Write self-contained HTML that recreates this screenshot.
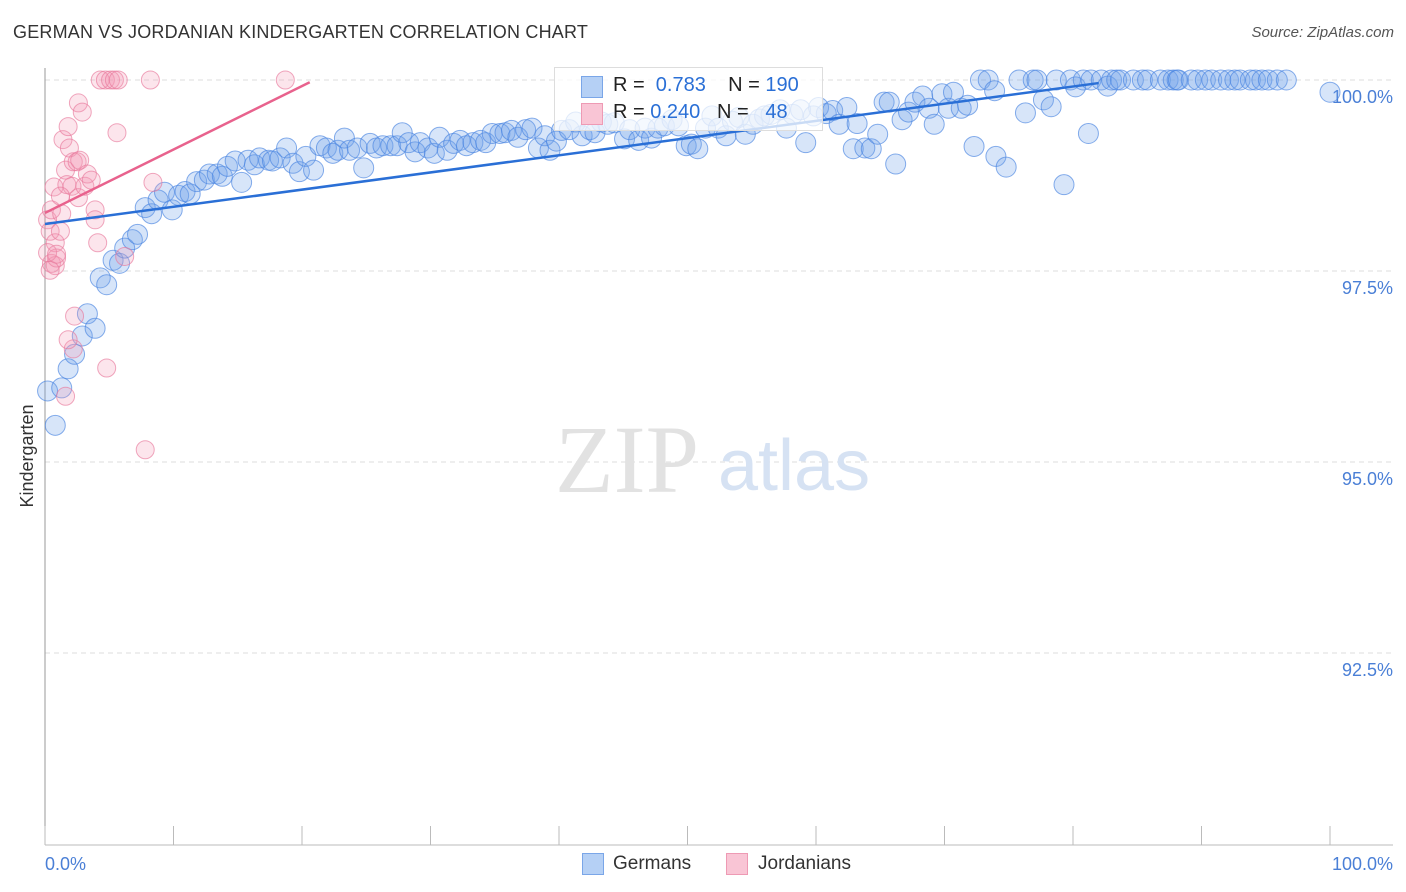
<!DOCTYPE html>
<html><head><meta charset="utf-8">
<style>
body{margin:0;background:#fff;font-family:"Liberation Sans",sans-serif;}
#wrap{position:relative;width:1406px;height:892px;overflow:hidden;}
.t{position:absolute;white-space:nowrap;}
</style></head>
<body>
<div id="wrap">
<div class="t" style="left:13px;top:22px;font-size:18px;color:#333;letter-spacing:0.2px">GERMAN VS JORDANIAN KINDERGARTEN CORRELATION CHART</div>
<div class="t" style="right:12px;top:24px;font-size:15px;color:#555;font-style:italic">Source: ZipAtlas.com</div>
<svg id="svg" width="1406" height="892" style="position:absolute;left:0;top:0"></svg>
</div>
<script>
const xTickLabels=["0.0%","100.0%"];
const yTicks=[100,97.5,95,92.5];
const yTickLabels=["100.0%","97.5%","95.0%","92.5%"];
const germansX=[0.2,0.8,1.3,1.8,2.3,2.9,3.3,3.9,4.3,4.8,5.3,5.8,6.2,6.8,7.2,7.8,8.3,8.8,9.3,9.9,10.4,10.9,11.3,11.8,12.4,12.8,13.4,13.8,14.2,14.8,15.3,15.8,16.3,16.7,17.4,17.7,18.3,18.8,19.3,19.8,20.3,20.9,21.4,21.9,22.4,22.8,23.3,23.7,24.3,24.8,25.3,25.8,26.3,26.9,27.4,27.8,28.3,28.8,29.2,29.8,30.3,30.7,31.3,31.8,32.3,32.8,33.3,33.9,34.3,34.8,35.4,35.8,36.3,36.8,37.4,37.9,38.4,38.9,39.3,39.8,40.2,40.8,41.3,41.8,42.4,42.8,43.3,43.8,44.3,45.1,45.5,46.2,46.7,47.2,47.7,48.2,48.8,49.3,49.9,50.3,50.8,51.4,51.9,52.4,53.0,53.5,54.0,54.5,55.1,55.6,56.0,56.5,57.2,57.7,58.2,58.8,59.2,59.8,60.2,60.8,61.3,61.8,62.4,62.9,63.2,63.8,64.3,64.8,65.3,65.7,66.2,66.7,67.2,67.7,68.3,68.8,69.2,69.8,70.3,70.7,71.3,71.8,72.3,72.8,73.4,73.9,74.0,74.8,75.8,76.3,76.9,77.2,77.7,78.3,78.7,79.3,79.8,80.2,80.8,81.2,81.4,82.2,82.7,83.0,83.4,83.7,84.7,85.4,85.8,86.8,87.4,87.8,88.1,88.2,89.2,89.7,90.3,90.8,91.5,92.1,92.6,93.0,93.8,94.2,94.7,95.2,95.9,96.6,100];
const germansY=[95.93,95.48,95.97,96.22,96.41,96.65,96.94,96.75,97.41,97.32,97.64,97.6,97.8,97.91,97.98,98.33,98.25,98.43,98.53,98.3,98.49,98.54,98.51,98.67,98.69,98.77,98.77,98.74,98.87,98.94,98.66,98.95,98.89,98.98,98.95,98.94,98.98,99.11,98.91,98.8,99.0,98.82,99.14,99.11,99.04,99.08,99.24,99.08,99.11,98.85,99.17,99.11,99.14,99.14,99.14,99.31,99.18,99.06,99.18,99.11,99.04,99.25,99.08,99.17,99.21,99.14,99.18,99.21,99.18,99.3,99.3,99.31,99.34,99.25,99.35,99.37,99.11,99.27,99.08,99.2,99.34,99.35,99.45,99.27,99.35,99.31,99.45,99.42,99.44,99.23,99.35,99.21,99.37,99.24,99.37,99.4,99.48,99.4,99.14,99.16,99.1,99.37,99.53,99.37,99.27,99.46,99.51,99.29,99.42,99.49,99.53,99.55,99.61,99.37,99.55,99.61,99.18,99.53,99.64,99.56,99.6,99.42,99.64,99.1,99.43,99.11,99.1,99.29,99.71,99.71,98.9,99.48,99.58,99.71,99.79,99.63,99.42,99.82,99.63,99.84,99.63,99.67,99.13,100,100,99.86,99.0,98.86,100,99.57,100,100,99.74,99.65,100,98.63,100,99.91,100,99.3,100,100,99.92,100,100,100,100,100,100,100,100,100,100,100,100,100,100,100,100,100,100,100,100,100,100,100,100,100,99.84];
const jordX=[0.2,0.4,0.5,0.7,0.8,0.5,0.8,0.9,1.2,1.3,1.4,1.6,1.7,1.8,1.9,2.1,2.2,2.3,2.2,2.5,2.6,2.6,2.7,2.9,3.1,3.3,3.6,3.9,3.9,4.1,4.3,4.7,4.8,5.1,5.4,5.6,5.7,6.2,7.8,8.2,8.4,18.7,1.2,0.2,0.4,0.9,1.8,1.6];
const jordY=[98.17,98.02,98.3,98.6,97.87,97.6,97.57,97.67,98.02,98.25,99.22,98.82,98.63,99.39,99.11,98.61,98.93,96.91,96.48,98.93,98.46,99.7,98.95,99.58,98.61,98.77,98.69,98.3,98.17,97.87,100,100,96.23,100,100,99.31,100,97.69,95.16,100,98.66,100,98.48,97.74,97.51,97.72,96.6,95.86];
const germansLine=[[0,98.115],[82.0,99.96]];
const jordLine=[[0,98.26],[20.6,99.97]];

const NS="http://www.w3.org/2000/svg";
const svg=document.getElementById('svg');
const X=v=>45+v*12.85;
const Y=v=>80+(100-v)*76.4;
function mk(tag,attrs,parent){const e=document.createElementNS(NS,tag);for(const k in attrs)e.setAttribute(k,attrs[k]);(parent||svg).appendChild(e);return e;}

yTicks.forEach((t,i)=>{
  const g=mk('line',{x1:45,x2:1393,y1:Y(t),y2:Y(t),stroke:'#ddd','stroke-dasharray':'5,4'});
  
  
  const tx=mk('text',{x:1393,y:Y(t)+23,'text-anchor':'end',fill:'#4a7fd6','font-size':18,'font-family':'Liberation Sans'});
  tx.textContent=yTickLabels[i];
  
  
});
const ya=mk('line',{x1:45,x2:45,y1:68,y2:845,stroke:'#999'});


const xa=mk('line',{x1:45,x2:1393,y1:845,y2:845,stroke:'#bbb'});


for(let i=0;i<=10;i++){
  const tk=mk('line',{x1:X(i*10),x2:X(i*10),y1:826,y2:845,stroke:'#bbb'});
  
  
}
[[0,'start',45],[1,'end',1393]].forEach(([i,a,x])=>{
  const t=mk('text',{x:x,y:870,'text-anchor':a,fill:'#4a7fd6','font-size':18,'font-family':'Liberation Sans'});
  t.textContent=xTickLabels[i];
  
  
});
const yt=mk('text',{x:33,y:456,transform:'rotate(-90 33 456)','text-anchor':'middle',fill:'#333','font-size':18,'font-family':'Liberation Sans'});
yt.textContent='Kindergarten';


const wm=mk('text',{x:555,y:492,fill:'#e2e2e2','font-size':96,'font-family':'Liberation Serif'});
wm.textContent='ZIP';


const wm2=mk('text',{x:718,y:490,fill:'#d6e2f3','font-size':72,'font-family':'Liberation Sans'});
wm2.textContent='atlas';


const nG=Math.min(germansX.length,germansY.length);
for(let i=0;i<nG;i++){
  const c=mk('circle',{cx:X(germansX[i]),cy:Y(germansY[i]),r:10,fill:'rgba(110,160,235,0.28)',stroke:'rgba(70,130,225,0.65)','stroke-width':1});
  
  
}
const nJ=Math.min(jordX.length,jordY.length);
for(let i=0;i<nJ;i++){
  const c=mk('circle',{cx:X(jordX[i]),cy:Y(jordY[i]),r:9,fill:'rgba(245,150,180,0.25)',stroke:'rgba(232,120,155,0.65)','stroke-width':1});
  
  
}
const gl=mk('line',{x1:X(germansLine[0][0]),y1:Y(germansLine[0][1]),x2:X(germansLine[1][0]),y2:Y(germansLine[1][1]),stroke:'#2a6fd6','stroke-width':2.5});


const jl=mk('line',{x1:X(jordLine[0][0]),y1:Y(jordLine[0][1]),x2:X(jordLine[1][0]),y2:Y(jordLine[1][1]),stroke:'#e8628d','stroke-width':2.5});


</script>
<div class="t" style="left:554px;top:67px;width:267px;height:62px;border:1px solid #ddd;background:rgba(255,255,255,0.75)">
  <div class="t" style="left:26px;top:8px;width:20px;height:20px;background:#b5d0f5;border:1px solid #7aa6e8"></div>
  <div class="t" style="left:58px;top:6px;font-size:20px;color:#222">R = &nbsp;<span style="color:#2a6fd6">0.783</span>&nbsp;&nbsp;&nbsp; N = <span style="color:#2a6fd6">190</span></div>
  <div class="t" style="left:26px;top:35px;width:20px;height:20px;background:#f9c5d5;border:1px solid #ee9ab4"></div>
  <div class="t" style="left:58px;top:33px;font-size:20px;color:#222">R = <span style="color:#2a6fd6">0.240</span>&nbsp;&nbsp;&nbsp;N = &nbsp;&nbsp;<span style="color:#2a6fd6">48</span></div>
</div>
<div class="t" style="left:582px;top:853px;width:20px;height:20px;background:#b5d0f5;border:1px solid #7aa6e8"></div>
<div class="t" style="left:613px;top:853px;font-size:19px;color:#333">Germans</div>
<div class="t" style="left:726px;top:853px;width:20px;height:20px;background:#f9c5d5;border:1px solid #ee9ab4"></div>
<div class="t" style="left:758px;top:853px;font-size:19px;color:#333">Jordanians</div>
</body></html>
